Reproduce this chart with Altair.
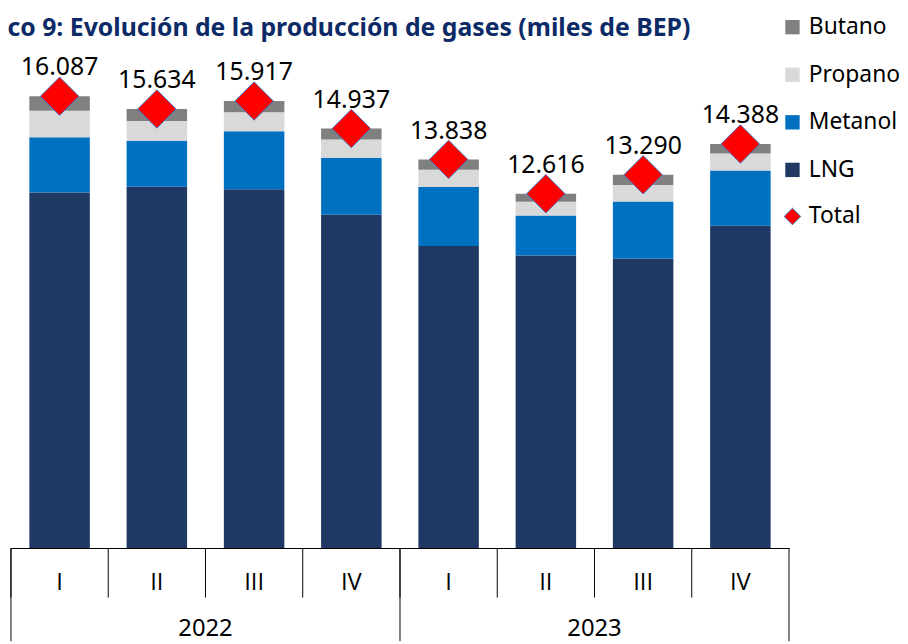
import altair as alt
import pandas as pd

# ---- data ----
years = ["2022", "2022", "2022", "2022", "2023", "2023", "2023", "2023"]
quarters = ["I", "II", "III", "IV", "I", "II", "III", "IV"]
lng = [12663, 12866, 12775, 11866, 10753, 10417, 10313, 11480]
metanol = [1966, 1638, 2069, 2033, 2107, 1423, 2023, 1966]
propano = [942, 706, 671, 650, 611, 494, 590, 600]
butano = [516, 424, 402, 388, 367, 282, 364, 342]
total = [16087, 15634, 15917, 14937, 13838, 12616, 13290, 14388]
series_stack = ["LNG", "Metanol", "Propano", "Butano"]
legend_order = ["Butano", "Propano", "Metanol", "LNG"]
legend_colors = ["#808080", "#D9D9D9", "#0070C0", "#203864"]
year_groups = ["2022", "2023"]
title_text = "co 9: Evolución de la producción de gases (miles de BEP)"

keys = [f"{y}-{q}" for y, q in zip(years, quarters)]

rows = []
for i, k in enumerate(keys):
    vals = {"LNG": lng[i], "Metanol": metanol[i], "Propano": propano[i], "Butano": butano[i]}
    for o, s in enumerate(series_stack):
        rows.append({"key": k, "series": s, "value": vals[s], "ord": o})
df_bars = pd.DataFrame(rows)
df_tot = pd.DataFrame({"key": keys, "total": total, "name": ["Total"] * len(keys)})
df_q = pd.DataFrame({"key": keys, "quarter": quarters})
df_year = pd.DataFrame({"year": year_groups,
                        "anchor": [f"{y}-II" for y in year_groups]})
df_starts = pd.DataFrame({"key": [f"{y}-I" for y in year_groups]})
df_end = pd.DataFrame({"key": [keys[-1]]})
df_div = pd.DataFrame({"key": keys})

FONT = "Noto Sans"
QFONT = "Open Sans"


def mkx(field="key", bp=None):
    kw = {}
    if bp is not None:
        kw["bandPosition"] = bp
    return alt.X(
        f"{field}:N",
        sort=keys,
        scale=alt.Scale(domain=keys, paddingInner=0, paddingOuter=0),
        axis=alt.Axis(
            title=None,
            labels=False,
            ticks=False,
            tickSize=0,
            domainColor="black",
            domainWidth=1,
            grid=False,
        ),
        **kw,
    )


yscale = alt.Scale(domain=[0, 18000])

bars = alt.Chart(df_bars).mark_bar(width=alt.RelativeBandSize(0.622)).encode(
    x=mkx(),
    y=alt.Y("value:Q", stack="zero", scale=yscale, axis=None),
    color=alt.Color(
        "series:N",
        scale=alt.Scale(domain=legend_order, range=legend_colors),
        legend=alt.Legend(
            orient="none", legendX=777, legendY=-27, title=None,
            symbolType="square", symbolSize=210, symbolStrokeWidth=0,
            labelFontSize=23, labelFont=FONT, labelColor="black",
            labelOffset=5, rowPadding=24, padding=0,
        ),
    ),
    order=alt.Order("ord:Q"),
)

points = alt.Chart(df_tot).mark_point(
    shape="diamond", filled=True, size=1500, stroke="#4472C4",
    strokeWidth=1, opacity=1, fillOpacity=1, strokeOpacity=1,
).encode(
    x=mkx(),
    y=alt.Y("total:Q", scale=yscale, axis=None),
    fill=alt.Fill(
        "name:N",
        scale=alt.Scale(domain=["Total"], range=["#FF0000"]),
        legend=alt.Legend(
            orient="none", legendX=777, legendY=164, title=None,
            symbolType="diamond", symbolSize=280, symbolStrokeColor="#4472C4",
            symbolStrokeWidth=1, labelFontSize=23, labelFont=FONT,
            labelColor="black", labelOffset=5, padding=0,
        ),
    ),
)

labels = alt.Chart(df_tot).transform_calculate(
    label="replace(format(datum.total, ','), ',', '.')"
).mark_text(dy=-21, baseline="alphabetic", fontSize=25, font=FONT, color="black").encode(
    x=mkx(),
    y=alt.Y("total:Q", scale=yscale, axis=None),
    text="label:N",
)

quarter_labels = alt.Chart(df_q).mark_text(
    fontSize=24, font=QFONT, color="black", baseline="middle"
).encode(
    x=mkx(),
    y=alt.value(545),
    text="quarter:N",
)

year_labels = alt.Chart(df_year).mark_text(
    fontSize=24, font=FONT, color="black", baseline="middle"
).encode(
    x=mkx("anchor", bp=1),
    y=alt.value(592),
    text="year:N",
)

div_rules = alt.Chart(df_div).mark_rule(color="black", strokeWidth=1).encode(
    x=mkx(bp=0), y=alt.value(510), y2=alt.value(560)
)
start_rules = alt.Chart(df_starts).mark_rule(color="black", strokeWidth=1).encode(
    x=mkx(bp=0), y=alt.value(510), y2=alt.value(604)
)
end_rules = alt.Chart(df_end).mark_rule(color="black", strokeWidth=1).encode(
    x=mkx(bp=1), y=alt.value(510), y2=alt.value(604)
)

chart = alt.layer(
    bars, points, labels, quarter_labels, year_labels,
    div_rules, start_rules, end_rules
).properties(
    width=785,
    height=510,
    autosize=alt.AutoSizeParams(type="none"),
    padding={"left": 3, "top": 32, "right": 112, "bottom": 94},
    title=alt.TitleParams(
        title_text, anchor="start", font=FONT, fontSize=25,
        fontWeight="bold", color="#0B2A66", dx=-3, dy=29,
    ),
).configure(font=FONT).configure_view(stroke=None)

chart.save("out.html", embed_options={"renderer": "svg", "actions": False})
